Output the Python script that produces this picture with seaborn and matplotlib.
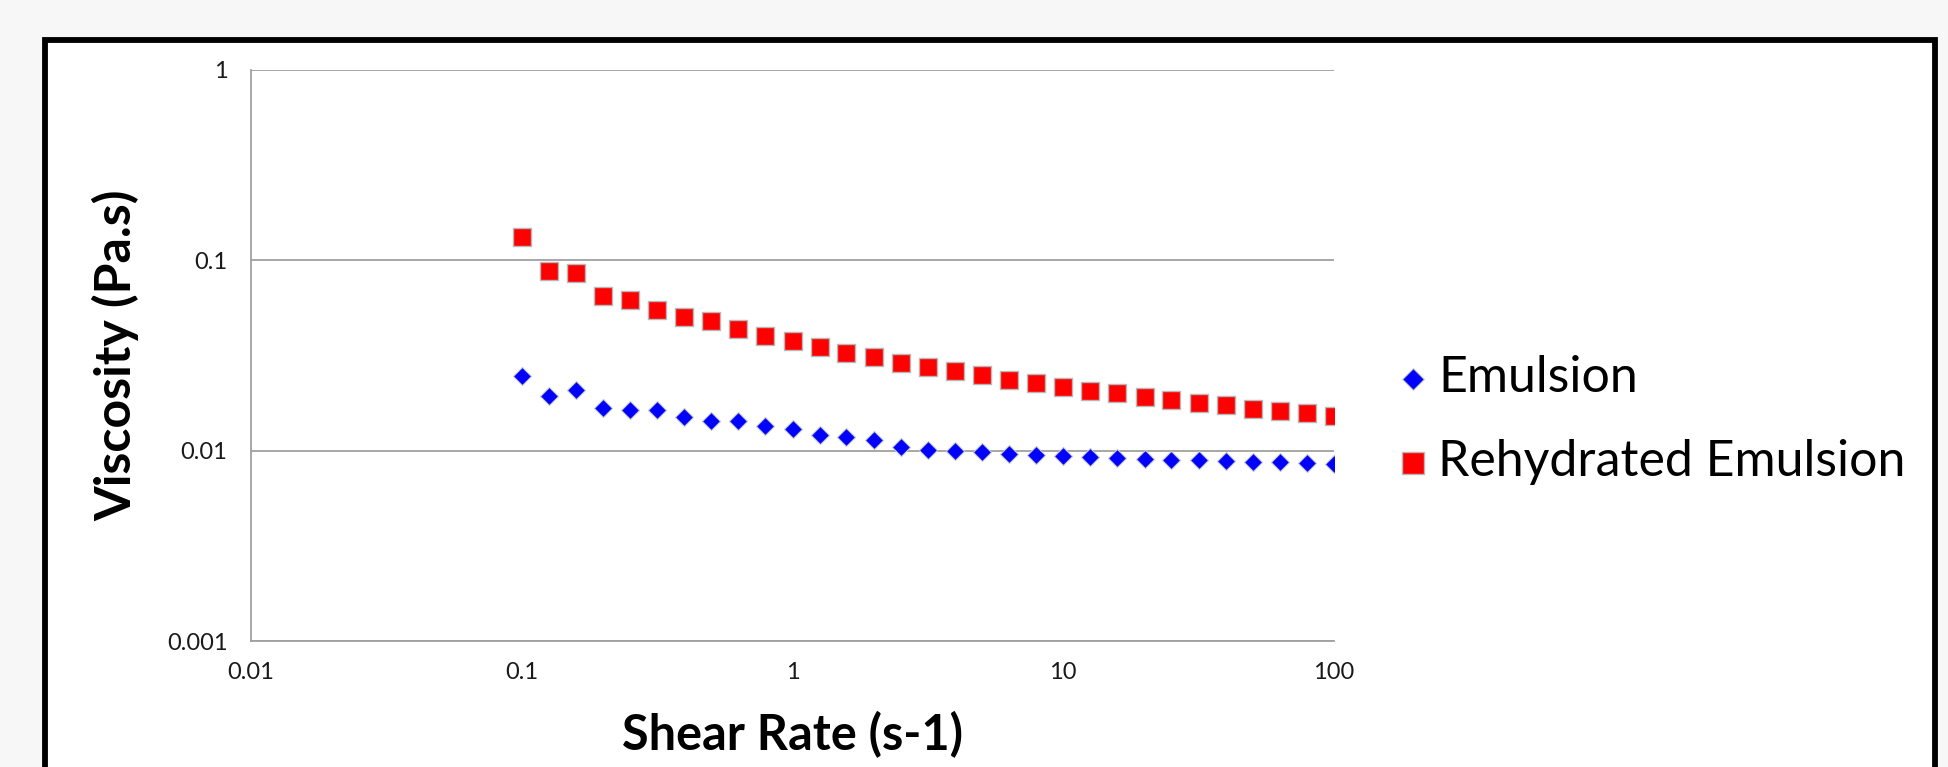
import numpy as np
import pandas as pd
import matplotlib
matplotlib.use("Agg")
import matplotlib.pyplot as plt
import seaborn as sns
from matplotlib.patches import Rectangle
from matplotlib.ticker import FixedLocator, FixedFormatter, NullLocator

# Shear rate (s-1), 10 points per decade
shear_rate = [0.1, 0.126, 0.158, 0.2, 0.251, 0.316, 0.398, 0.501, 0.631, 0.794,
              1, 1.26, 1.58, 2, 2.51, 3.16, 3.98, 5.01, 6.31, 7.94,
              10, 12.6, 15.8, 20, 25.1, 31.6, 39.8, 50.1, 63.1, 79.4, 100]

# Viscosity (Pa.s)
emulsion = [0.0247, 0.0193, 0.0208, 0.0167, 0.0163, 0.0164, 0.0151, 0.0144, 0.0143, 0.0134,
            0.0130, 0.0121, 0.0118, 0.0114, 0.0104, 0.0101, 0.00996, 0.0098, 0.00964, 0.00952,
            0.00941, 0.0093, 0.00919, 0.00907, 0.00897, 0.00889, 0.00882, 0.00876, 0.0087, 0.00861,
            0.00851]
rehydrated = [0.133, 0.0875, 0.0854, 0.0646, 0.0622, 0.0547, 0.0505, 0.0479, 0.0436, 0.0399,
              0.0376, 0.0351, 0.0326, 0.0310, 0.0290, 0.0276, 0.0261, 0.0250, 0.0236, 0.0226,
              0.0217, 0.0207, 0.0200, 0.0191, 0.0184, 0.0178, 0.0173, 0.0166, 0.0161, 0.0157,
              0.0152]

x_ticks = [0.01, 0.1, 1, 10, 100]
x_tick_labels = ['0.01', '0.1', '1', '10', '100']
y_ticks = [0.001, 0.01, 0.1, 1]
y_tick_labels = ['0.001', '0.01', '0.1', '1']

sns.set_style("white")
plt.rcParams['font.family'] = ['Lato', 'DejaVu Sans']
plt.rcParams['text.color'] = 'black'
plt.rcParams['axes.labelcolor'] = 'black'

W, H = 1949, 767
fig = plt.figure(figsize=(W / 100, H / 100), dpi=100, facecolor='#f7f7f7')

# white panel with thick black border (open at the bottom)
panel = Rectangle((45.5 / W, -0.05), (1935.5 - 45.5) / W, 1.05 - 39.5 / H,
                  transform=fig.transFigure, facecolor='white', edgecolor='black',
                  linewidth=4.2, zorder=-5)
fig.patches.append(panel)

ax = fig.add_axes([251 / W, 1 - 641 / H, (1334 - 251) / W, (641 - 70) / H])
ax.set_facecolor('none')
ax.set_zorder(2)

sns.scatterplot(x=shear_rate, y=emulsion, ax=ax, marker='D', s=85, color='#0000ff',
                edgecolor='#c8c8c8', linewidth=0.8, label='Emulsion', zorder=3)
sns.scatterplot(x=shear_rate, y=rehydrated, ax=ax, marker='s', s=165, color='#ff0000',
                edgecolor='#b8b8b8', linewidth=1.0, label='Rehydrated Emulsion', zorder=3)

ax.set_xscale('log')
ax.set_yscale('log')
ax.set_xlim(0.01, 100)
ax.set_ylim(0.001, 1)

ax.xaxis.set_major_locator(FixedLocator(x_ticks))
ax.xaxis.set_major_formatter(FixedFormatter(x_tick_labels))
ax.yaxis.set_major_locator(FixedLocator(y_ticks))
ax.yaxis.set_major_formatter(FixedFormatter(y_tick_labels))
ax.xaxis.set_minor_locator(NullLocator())
ax.yaxis.set_minor_locator(NullLocator())

grid_c = '#a0a0a0'
ax.yaxis.grid(True, color=grid_c, linewidth=1.3)
ax.xaxis.grid(False)
for side in ['top', 'right']:
    ax.spines[side].set_visible(False)
for side in ['left', 'bottom']:
    ax.spines[side].set_color(grid_c)
    ax.spines[side].set_linewidth(1.3)

ax.tick_params(axis='both', which='major', direction='out', length=6, width=1.0,
               color=grid_c, labelsize=17, labelcolor='#1a1a1a')
ax.tick_params(axis='y', pad=11)
ax.tick_params(axis='x', pad=9)

ax.set_xlabel('Shear Rate (s-1)', fontsize=35, fontweight='bold', labelpad=20)
ax.set_ylabel('Viscosity (Pa.s)', fontsize=36, fontweight='bold', labelpad=20)

handles, labels = ax.get_legend_handles_labels()
ax.get_legend().remove()
fig.legend(handles, labels, loc='center left', bbox_to_anchor=(1388 / W, 1 - 420 / H),
           frameon=False, fontsize=36, handlelength=1.0, handletextpad=0.0,
           labelspacing=0.75, borderpad=0, borderaxespad=0, markerscale=1.2)

fig.savefig('out.png', dpi=100, facecolor=fig.get_facecolor())
